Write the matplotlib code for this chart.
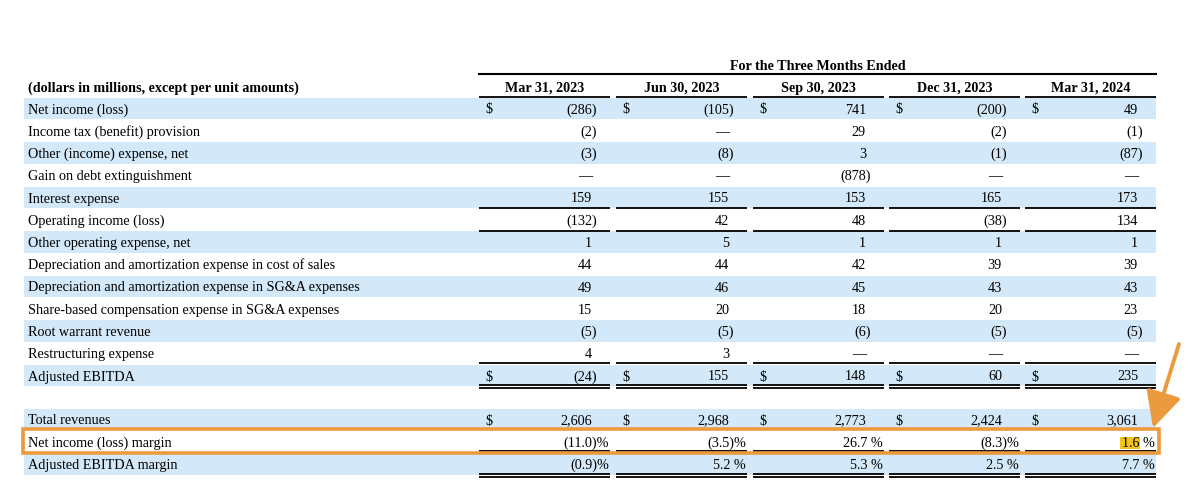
import matplotlib
matplotlib.use("Agg")
import matplotlib.pyplot as plt
from matplotlib.patches import Rectangle

# ---------------- data ----------------
period_title = "For the Three Months Ended"
unit_header = "(dollars in millions, except per unit amounts)"
periods = ["Mar 31, 2023", "Jun 30, 2023", "Sep 30, 2023", "Dec 31, 2023", "Mar 31, 2024"]

row_labels = [
    "Net income (loss)",
    "Income tax (benefit) provision",
    "Other (income) expense, net",
    "Gain on debt extinguishment",
    "Interest expense",
    "Operating income (loss)",
    "Other operating expense, net",
    "Depreciation and amortization expense in cost of sales",
    "Depreciation and amortization expense in SG&A expenses",
    "Share-based compensation expense in SG&A expenses",
    "Root warrant revenue",
    "Restructuring expense",
    "Adjusted EBITDA",
]
net_income = [-286, -105, 741, -200, 49]
income_tax = [-2, None, 29, -2, -1]
other_income = [-3, -8, 3, -1, -87]
gain_debt = [None, None, -878, None, None]
interest_exp = [159, 155, 153, 165, 173]
operating_income = [-132, 42, 48, -38, 134]
other_operating = [1, 5, 1, 1, 1]
da_cost_of_sales = [44, 44, 42, 39, 39]
da_sga = [49, 46, 45, 43, 43]
share_based_comp = [15, 20, 18, 20, 23]
root_warrant = [-5, -5, -6, -5, -5]
restructuring = [4, 3, None, None, None]
adjusted_ebitda = [-24, 155, 148, 60, 235]

bottom_labels = ["Total revenues", "Net income (loss) margin", "Adjusted EBITDA margin"]
total_revenues = [2606, 2968, 2773, 2424, 3061]
net_income_margin = [-11.0, -3.5, 26.7, -8.3, 1.6]
adj_ebitda_margin = [-0.9, 5.2, 5.3, 2.5, 7.7]

top_values = [net_income, income_tax, other_income, gain_debt, interest_exp,
              operating_income, other_operating, da_cost_of_sales, da_sga,
              share_based_comp, root_warrant, restructuring, adjusted_ebitda]

# ---------------- styling / layout ----------------
FONT = ["Liberation Serif", "DejaVu Serif"]
FS = 10.2
SHADE = "#d3e9f9"
ORANGE = "#ec9a3e"

fig = plt.figure(figsize=(12, 4.88), dpi=100)
ax = fig.add_axes([0, 0, 1, 1])
ax.set_xlim(0, 1200)
ax.set_ylim(488, 0)
ax.axis("off")

table_left, table_right = 24, 1156
label_x = 28
col_start = [479, 616, 753, 889, 1025]
col_w = 131
pitch = 22.25
first_row = 108.5
band_h = 21.5


def txt(x, y, s, ha="left", bold=False, **kw):
    ax.text(x, y + 5, s, ha=ha, va="baseline", fontsize=FS, family=FONT,
            fontweight="bold" if bold else "normal", color="black", **kw)


def fmt_num(v):
    if v is None:
        return "—", False
    if v < 0:
        return "({:,})".format(-v), True
    return "{:,}".format(v), False


def col_lines(y, double=False):
    for cs in col_start:
        ax.plot([cs, cs + col_w], [y, y], color="black", lw=1.3, solid_capstyle="butt")
        if double:
            ax.plot([cs, cs + col_w], [y + 3.2, y + 3.2], color="black", lw=1.3,
                    solid_capstyle="butt")


# header
title_center = (col_start[0] + col_start[-1] + col_w) / 2
txt(title_center, 65, period_title, ha="center", bold=True)
ax.plot([col_start[0], col_start[-1] + col_w], [74, 74], color="black", lw=1.5)
txt(label_x, 87, unit_header, bold=True)
for cs, p in zip(col_start, periods):
    txt(cs + col_w / 2, 87, p, ha="center", bold=True)
col_lines(96.7)

# top block
dollar_rows = {0, 12}
for i, (lab, vals) in enumerate(zip(row_labels, top_values)):
    yc = first_row + i * pitch
    if i % 2 == 0:
        ax.add_patch(Rectangle((table_left, yc - band_h / 2), table_right - table_left,
                               band_h, color=SHADE, lw=0, zorder=0))
    txt(label_x, yc, lab)
    for cs, v in zip(col_start, vals):
        s, paren = fmt_num(v)
        x = cs + col_w - (13 if paren else 18)
        txt(x, yc, s, ha="right")
        if i in dollar_rows:
            txt(cs + 6, yc, "$")

col_lines(first_row + 4 * pitch + 10.5)
col_lines(first_row + 5 * pitch + 11)
col_lines(first_row + 11 * pitch + 10)
col_lines(first_row + 12 * pitch + 9.5, double=True)

# bottom block
y_rev = first_row + 14 * pitch - 0.5
y_nim = y_rev + pitch
y_aem = y_nim + pitch
for yc in (y_rev, y_aem):
    ax.add_patch(Rectangle((table_left, yc - band_h / 2), table_right - table_left,
                           band_h, color=SHADE, lw=0, zorder=0))
for lab, yc in zip(bottom_labels, (y_rev, y_nim, y_aem)):
    txt(label_x, yc, lab)

for cs, v in zip(col_start, total_revenues):
    s, paren = fmt_num(v)
    txt(cs + col_w - 18, y_rev, s, ha="right")
    txt(cs + 6, y_rev, "$")


def fmt_pct(v):
    if v < 0:
        return "({:.1f})%".format(-v)
    return "{:.1f} %".format(v)


for cs, v in zip(col_start, net_income_margin):
    txt(cs + col_w - 1, y_nim, fmt_pct(v), ha="right")
for cs, v in zip(col_start, adj_ebitda_margin):
    txt(cs + col_w - 1, y_aem, fmt_pct(v), ha="right")

col_lines(y_nim + 9)
col_lines(y_aem + 9.5, double=True)

# yellow highlight behind last net income margin value
ax.add_patch(Rectangle((1120, y_nim - 4.5), 19.5, 12, color="#f3c419", lw=0, zorder=1))

# orange box around net income margin row
ax.add_patch(Rectangle((22.5, y_nim - 12.5), 1159 - 22.5, 24, fill=False,
                       edgecolor=ORANGE, lw=2.6, zorder=3))

# orange arrow
ax.annotate("", xy=(1153, 428), xytext=(1179, 344),
            arrowprops=dict(arrowstyle="-|>,head_length=2.2,head_width=1.1",
                            color=ORANGE, lw=2.8, shrinkA=0, shrinkB=0),
            zorder=4)

fig.savefig("out.png", dpi=100)
